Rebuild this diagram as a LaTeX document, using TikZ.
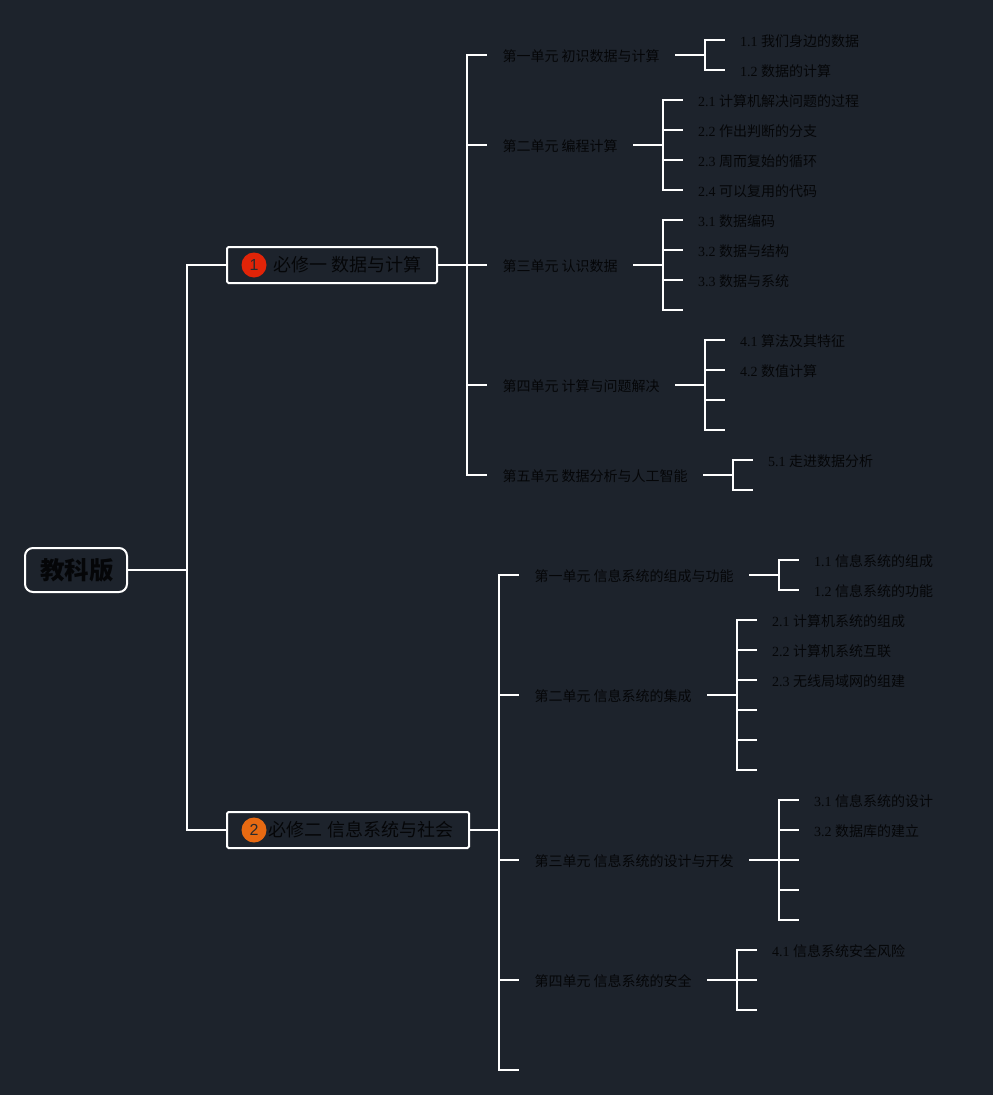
\documentclass[tikz,border=0pt]{standalone}
\usepackage{fontspec}
\setmainfont{Noto Sans CJK SC}
\newfontfamily\lat{Liberation Serif}
\newfontfamily\badgefont{Liberation Sans}
\definecolor{bgcol}{RGB}{29,35,44}
\definecolor{inkcol}{RGB}{5,6,8}
\definecolor{redcol}{RGB}{226,36,8}
\definecolor{orangecol}{RGB}{232,106,18}
\tikzset{
  branch/.style={draw=white,line width=2pt},
  rootbox/.style={draw=white,line width=2pt,outer sep=0pt,rounded corners=8pt,text=inkcol,font=\fontsize{24.5}{24.5}\selectfont\bfseries,minimum width=102pt,minimum height=44pt,inner sep=0pt},
  topicbox/.style={draw=white,line width=2pt,outer sep=0pt,rounded corners=1.5pt,text=inkcol,font=\fontsize{18}{18}\selectfont,minimum height=36pt,inner sep=0pt,anchor=west},
  badge/.style={circle,minimum size=25pt,inner sep=0pt,text=inkcol!85!white,font=\badgefont\fontsize{16}{16}\selectfont},
  leaf/.style={text=inkcol,font=\fontsize{14}{14}\selectfont,outer sep=0pt,inner xsep=15pt,inner ysep=0pt,text height=13pt,text depth=1pt,anchor=west},
  unit/.style={leaf,inner xsep=15.5pt}
}
\begin{document}
\begin{tikzpicture}[x=1pt,y=-1pt]

  %background
  \fill[bgcol] (0,0) rectangle (993,1095);
  \useasboundingbox (0,0) rectangle (993,1095);

  %root and topics
  \node[rootbox] (root) at (76,570) {\hspace{1.5pt}\raisebox{-3pt}{教科版}};
  \node[topicbox,minimum width=210pt] (bookA) at (227,265) {\hspace{31.5pt}\raisebox{-1pt}{必修一 数据与计算}};
  \node[topicbox,minimum width=242pt] (bookB) at (227,830) {\hspace{26pt}\raisebox{-1pt}{必修二 信息系统与社会}};
  \node[badge,fill=redcol] (badgeA) at (254,265) {1};
  \node[badge,fill=orangecol] (badgeB) at (254,830) {2};
  \draw[branch] (root.east) -- ++(60,0) |- (bookA.west);
  \draw[branch] (root.east) -- ++(60,0) |- (bookB.west);

  %first book: units
  \foreach \nm/\y/\txt in {a1/55/第一单元 初识数据与计算,a2/145/第二单元 编程计算,a3/265/第三单元 认识数据,a4/385/第四单元 计算与问题解决,a5/475/第五单元 数据分析与人工智能} {
    \node[unit] (\nm) at (487,\y) {\txt};
    \draw[branch] (bookA.east) -- ++(30,0) |- (\nm.west);
  }

  %second book: units
  \foreach \nm/\y/\txt in {b1/575/第一单元 信息系统的组成与功能,b2/695/第二单元 信息系统的集成,b3/860/第三单元 信息系统的设计与开发,b4/980/第四单元 信息系统的安全} {
    \node[unit] (\nm) at (519,\y) {\txt};
    \draw[branch] (bookB.east) -- ++(30,0) |- (\nm.west);
  }
  \coordinate (b5) at (519,1070);
  \draw[branch] (bookB.east) -- ++(30,0) |- (b5);

  %lessons of the first book
  \foreach \nm/\y/\num/\txt in {a11/40/1.1/我们身边的数据,a12/70/1.2/数据的计算} {
    \node[leaf] (\nm) at (725,\y) {{\lat\num\ }\txt};
    \draw[branch] (a1.east) -- ++(30,0) |- (\nm.west);
  }
  \foreach \nm/\y/\num/\txt in {a21/100/2.1/计算机解决问题的过程,a22/130/2.2/作出判断的分支,a23/160/2.3/周而复始的循环,a24/190/2.4/可以复用的代码} {
    \node[leaf] (\nm) at (683,\y) {{\lat\num\ }\txt};
    \draw[branch] (a2.east) -- ++(30,0) |- (\nm.west);
  }
  \foreach \nm/\y/\num/\txt in {a31/220/3.1/数据编码,a32/250/3.2/数据与结构,a33/280/3.3/数据与系统} {
    \node[leaf] (\nm) at (683,\y) {{\lat\num\ }\txt};
    \draw[branch] (a3.east) -- ++(30,0) |- (\nm.west);
  }
  \coordinate (a34) at (683,310);
  \draw[branch] (a3.east) -- ++(30,0) |- (a34);
  \foreach \nm/\y/\num/\txt in {a41/340/4.1/算法及其特征,a42/370/4.2/数值计算} {
    \node[leaf] (\nm) at (725,\y) {{\lat\num\ }\txt};
    \draw[branch] (a4.east) -- ++(30,0) |- (\nm.west);
  }
  \foreach \nm/\y in {a43/400,a44/430} {
    \coordinate (\nm) at (725,\y);
    \draw[branch] (a4.east) -- ++(30,0) |- (\nm);
  }
  \node[leaf] (a51) at (753,460) {{\lat 5.1 }走进数据分析};
  \coordinate (a52) at (753,490);
  \draw[branch] (a5.east) -- ++(30,0) |- (a51.west);
  \draw[branch] (a5.east) -- ++(30,0) |- (a52);

  %lessons of the second book
  \foreach \nm/\y/\num/\txt in {b11/560/1.1/信息系统的组成,b12/590/1.2/信息系统的功能} {
    \node[leaf] (\nm) at (799,\y) {{\lat\num\ }\txt};
    \draw[branch] (b1.east) -- ++(30,0) |- (\nm.west);
  }
  \foreach \nm/\y/\num/\txt in {b21/620/2.1/计算机系统的组成,b22/650/2.2/计算机系统互联,b23/680/2.3/无线局域网的组建} {
    \node[leaf] (\nm) at (757,\y) {{\lat\num\ }\txt};
    \draw[branch] (b2.east) -- ++(30,0) |- (\nm.west);
  }
  \foreach \nm/\y in {b24/710,b25/740,b26/770} {
    \coordinate (\nm) at (757,\y);
    \draw[branch] (b2.east) -- ++(30,0) |- (\nm);
  }
  \foreach \nm/\y/\num/\txt in {b31/800/3.1/信息系统的设计,b32/830/3.2/数据库的建立} {
    \node[leaf] (\nm) at (799,\y) {{\lat\num\ }\txt};
    \draw[branch] (b3.east) -- ++(30,0) |- (\nm.west);
  }
  \foreach \nm/\y in {b33/860,b34/890,b35/920} {
    \coordinate (\nm) at (799,\y);
    \draw[branch] (b3.east) -- ++(30,0) |- (\nm);
  }
  \node[leaf] (b41) at (757,950) {{\lat 4.1 }信息系统安全风险};
  \draw[branch] (b4.east) -- ++(30,0) |- (b41.west);
  \foreach \nm/\y in {b42/980,b43/1010} {
    \coordinate (\nm) at (757,\y);
    \draw[branch] (b4.east) -- ++(30,0) |- (\nm);
  }

\end{tikzpicture}
\end{document}
